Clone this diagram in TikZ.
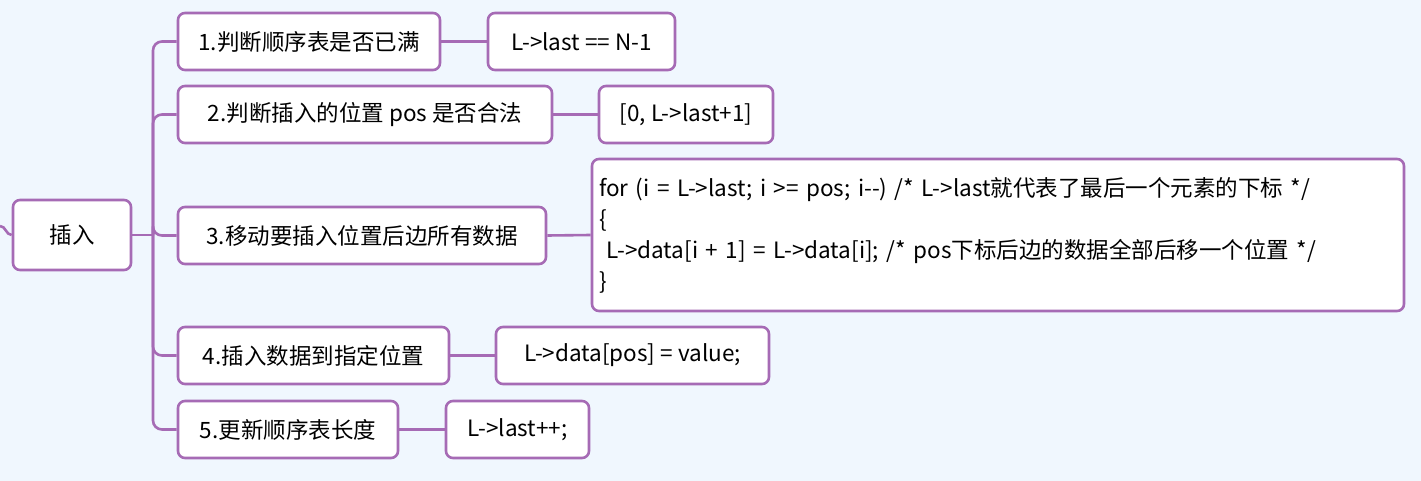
\documentclass[tikz,border=0pt]{standalone}
\usepackage{fontspec}
\setmainfont{Noto Sans CJK SC}
\definecolor{bg}{HTML}{F0F7FE}
\definecolor{pur}{HTML}{A66BB5}
\begin{document}
\begin{tikzpicture}[x=1pt,y=-1pt,
  box/.style={draw=pur,line width=2.6pt,fill=white,rounded corners=7pt,inner sep=0pt,font=\fontsize{22.5}{31}\selectfont},
  ln/.style={draw=pur,line width=2.6pt}]
\fill[bg] (0,0) rectangle (1421,481);
\useasboundingbox (0,0) rectangle (1421,481);
\newcommand\bx[6]{\node[box,minimum width=#4-#2,minimum height=#5-#3] (#1) at ({(#2+#4)/2},{(#3+#5)/2}) {#6};}
\bx{r}{13}{200}{131}{270}{插入}
\bx{a}{178}{13}{440}{70}{1.判断顺序表是否已满}
\bx{a2}{488}{13}{675}{70}{L->last == N-1}
\bx{b}{178}{86}{552}{143}{2.判断插入的位置 pos 是否合法}
\bx{b2}{599}{86}{773}{143}{[0, L->last+1]}
\bx{c}{178}{207}{546}{264}{3.移动要插入位置后边所有数据}
\node[box,minimum width=812,minimum height=152,text width=798,align=left] (c2) at (998,235) {for (i = L->last; i >= pos; i-{}-) /* L->last就代表了最后一个元素的下标 */\\\{\\\ L->data[i + 1] = L->data[i]; /* pos下标后边的数据全部后移一个位置 */\\\}};
\bx{d}{178}{327}{449}{384}{4.插入数据到指定位置}
\bx{d2}{496}{327}{769}{384}{L->data[pos] = value;}
\bx{e}{178}{401}{398}{458}{5.更新顺序表长度}
\bx{e2}{446}{401}{589}{458}{L->last++;}
\coordinate (s) at (0,226);
\coordinate (j) at (153,235);
\draw[ln] (s) to[out=0,in=180] (r.west);
\draw[ln] (r.east) -- (j);
\foreach \ch in {a,b,c,d,e}{
  \draw[ln,rounded corners=9pt] (j) |- (\ch.west);}
\draw[ln] (a.east) -- (a2.west);
\draw[ln] (b.east) -- (b2.west);
\draw[ln] (c.east) -- (c2.west);
\draw[ln] (d.east) -- (d2.west);
\draw[ln] (e.east) -- (e2.west);
\end{tikzpicture}
\end{document}
